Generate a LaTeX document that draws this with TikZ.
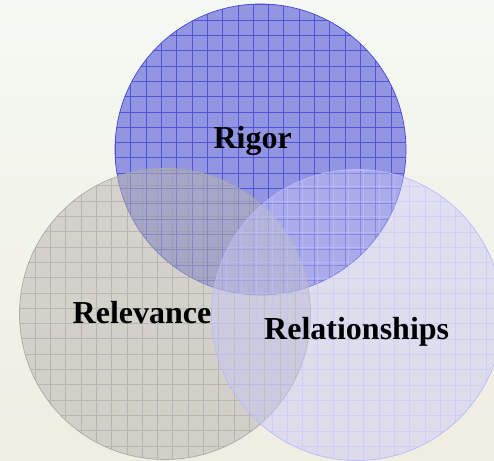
\documentclass[tikz,border=0pt]{standalone}
\usepackage{fontspec}
\setmainfont{Liberation Serif}
\definecolor{bgtop}{RGB}{244,249,243}
\definecolor{bgbot}{RGB}{240,237,226}
\definecolor{rigorfill}{RGB}{146,150,226}
\definecolor{rigorline}{RGB}{84,84,214}
\definecolor{rigoredge}{RGB}{70,70,210}
\definecolor{relevfill}{RGB}{184,181,177}
\definecolor{relevline}{RGB}{150,150,150}
\definecolor{relevedge}{RGB}{170,170,170}
\definecolor{relatfill}{RGB}{198,198,247}
\definecolor{relatline}{RGB}{195,195,252}
\definecolor{relatedge}{RGB}{185,185,255}
\begin{document}
\begin{tikzpicture}[x=1pt,y=-1pt,
  label/.style={font=\fontsize{32}{38}\selectfont\bfseries, text=black, anchor=base, inner sep=0pt},
  gridlines/.style={line width=0.6pt}]
  \useasboundingbox (0,0) rectangle (494,460);
  \shade[top color=bgtop, bottom color=bgbot] (0,0) rectangle (494,460);

  \coordinate (cRig) at (260.5,149.5);
  \coordinate (cRel) at (165,314);
  \coordinate (cRes) at (357,315);
  \def\rad{145.5}

  % Rigor circle
  \begin{scope}
    \clip (cRig) circle (\rad);
    \fill[rigorfill] (cRig) circle (\rad);
    \draw[gridlines, rigorline, shift={(8.3,4.7)}, step=15.3pt] (-20,-20) grid (520,480);
  \end{scope}
  \draw[rigoredge, line width=0.7pt] (cRig) circle (\rad);

  % Relevance circle
  \begin{scope}
    \clip (cRel) circle (\rad);
    \fill[relevfill, fill opacity=0.53] (cRel) circle (\rad);
    \draw[gridlines, relevline, draw opacity=0.45, shift={(4.4,2.1)}, step=15.3pt] (-20,-20) grid (520,480);
  \end{scope}
  \draw[relevedge, line width=0.7pt] (cRel) circle (\rad);

  % Relationships circle
  \begin{scope}
    \clip (cRes) circle (\rad);
    \fill[relatfill, fill opacity=0.45] (cRes) circle (\rad);
    \draw[gridlines, relatline, draw opacity=0.5, shift={(11.7,2.4)}, step=15.3pt] (-20,-20) grid (520,480);
  \end{scope}
  \draw[relatedge, line width=0.7pt] (cRes) circle (\rad);

  \node[label] (tRig) at (252.7,148) {Rigor};
  \node[label] (tRel) at (142,323) {Relevance};
  \node[label] (tRes) at (356.7,339) {Relationships};
\end{tikzpicture}
\end{document}
